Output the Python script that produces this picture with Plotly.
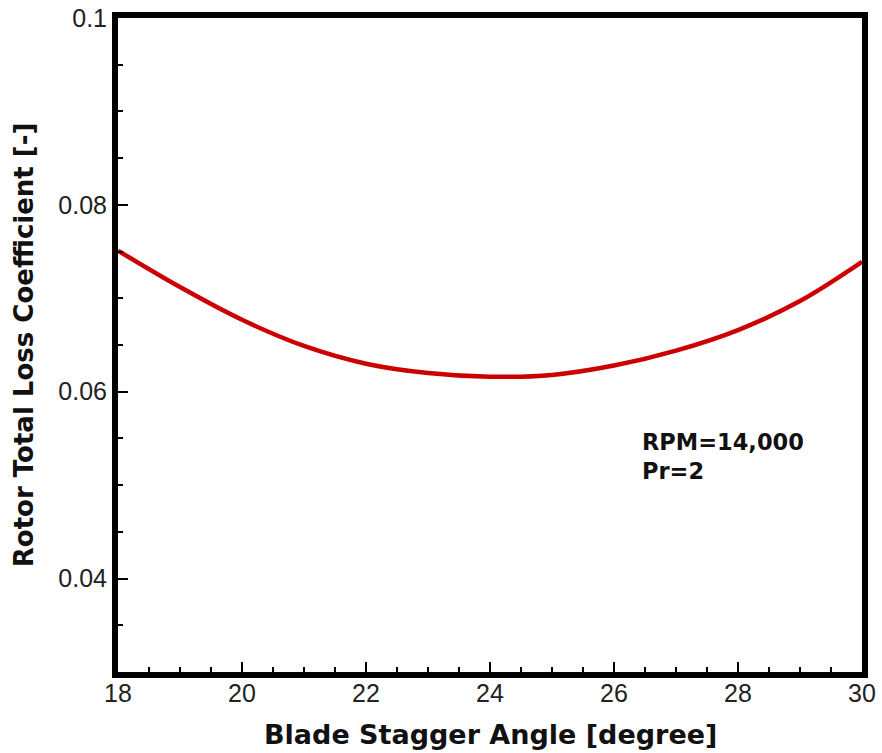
import plotly.graph_objects as go

stagger = [18, 19, 20, 21, 22, 23, 24, 25, 26, 27, 28, 29, 30]
loss = [0.0751, 0.0712, 0.0677, 0.0649, 0.0630, 0.0620, 0.0616, 0.0618, 0.0628, 0.0644, 0.0666, 0.0697, 0.0739]

x_ticks = [18, 20, 22, 24, 26, 28, 30]
y_ticks = [0.04, 0.06, 0.08, 0.1]
y_labels = ["0.04", "0.06", "0.08", "0.1"]

fig = go.Figure()
fig.add_trace(go.Scatter(x=stagger, y=loss, mode="lines",
                         line=dict(color="#cc0000", width=4.5, shape="spline"),
                         showlegend=False))

fig.add_annotation(x=26.42, y=0.0562, xref="x", yref="y",
                   text="<b>RPM=14,000<br>Pr=2</b>", showarrow=False,
                   xanchor="left", yanchor="top", align="left",
                   font=dict(family="DejaVu Sans", size=22.5, color="#111"))

# axis titles as annotations for precise placement
fig.add_annotation(x=0.5, y=-0.0963, xref="paper", yref="paper",
                   text="<b>Blade Stagger Angle [degree]</b>", showarrow=False,
                   xanchor="center", yanchor="middle",
                   font=dict(family="DejaVu Sans", size=27, color="#111"))
fig.add_annotation(x=-0.126, y=0.5, xref="paper", yref="paper",
                   text="<b>Rotor Total Loss Coefficient [-]</b>", showarrow=False,
                   textangle=-90, xanchor="center", yanchor="middle",
                   font=dict(family="DejaVu Sans", size=26, color="#111"))

axis_common = dict(showline=True, linewidth=6, linecolor="black", mirror=True,
                   ticks="inside", ticklen=10, tickwidth=2, tickcolor="black",
                   showgrid=False, zeroline=False, automargin=False,
                   tickfont=dict(family="Liberation Sans, Arial", size=25, color="#222"))

fig.update_xaxes(range=[18, 30], tickvals=x_ticks, ticklabelstandoff=-6,
                 minor=dict(dtick=0.5, tick0=18, ticks="inside", ticklen=5, tickwidth=1.5, tickcolor="black"),
                 **axis_common)
fig.update_yaxes(range=[0.03, 0.1], tickvals=y_ticks, ticktext=y_labels,
                 minor=dict(dtick=0.005, tick0=0.03, ticks="inside", ticklen=5, tickwidth=1.5, tickcolor="black"),
                 **axis_common)

fig.update_layout(width=882, height=753, margin=dict(l=118, r=20, t=18, b=81),
                  plot_bgcolor="white", paper_bgcolor="white")

fig.write_html("out.html")
